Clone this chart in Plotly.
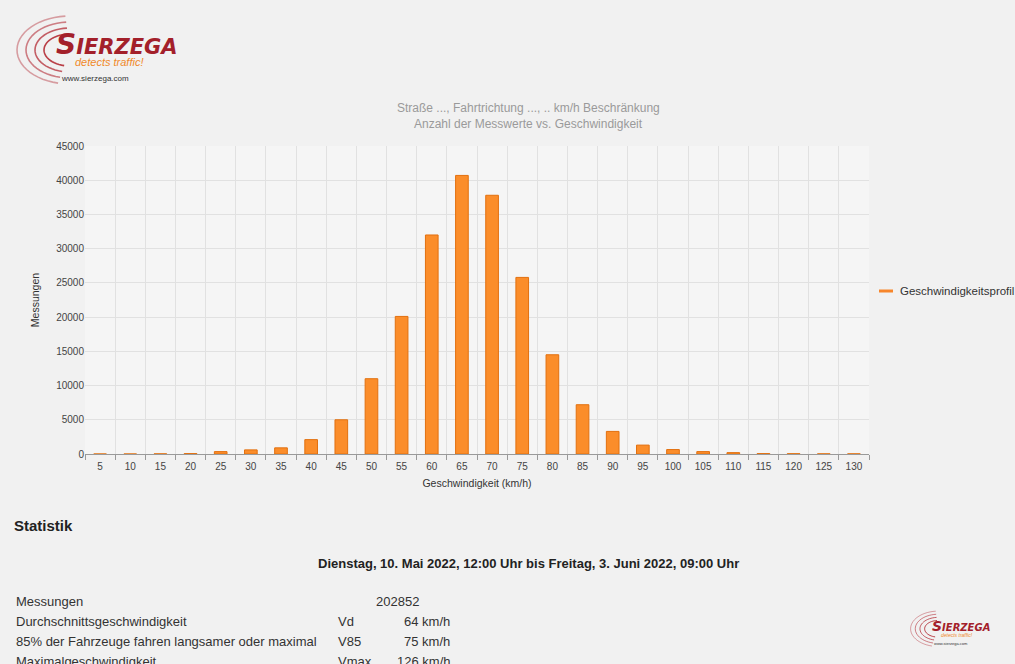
import math
import plotly.graph_objects as go

# ---- data ----
speeds = [5, 10, 15, 20, 25, 30, 35, 40, 45, 50, 55, 60, 65, 70, 75, 80, 85,
          90, 95, 100, 105, 110, 115, 120, 125, 130]
counts = [0, 0, 20, 60, 350, 600, 900, 2100, 5000, 11000, 20100, 32000, 40700,
          37800, 25800, 14500, 7200, 3300, 1300, 650, 350, 200, 60, 40, 20, 20]
series_name = "Geschwindigkeitsprofil"
title_lines = ["Straße ..., Fahrtrichtung ..., .. km/h Beschränkung",
               "Anzahl der Messwerte vs. Geschwindigkeit"]
x_title = "Geschwindigkeit (km/h)"
y_title = "Messungen"
stat_heading = "Statistik"
period = "Dienstag, 10. Mai 2022, 12:00 Uhr bis Freitag, 3. Juni 2022, 09:00 Uhr"
stat_labels = ["Messungen", "Durchschnittsgeschwindigkeit",
               "85% der Fahrzeuge fahren langsamer oder maximal", "Maximalgeschwindigkeit"]
stat_symbols = ["", "Vd", "V85", "Vmax"]
stat_values = ["202852", "64 km/h", "75 km/h", "126 km/h"]

W, H = 1015, 664
L, R, T, B = 85, 869, 146, 454
BAR_COLOR = "#fb8d2a"

def px(x):
    return (x - L) / (R - L)

def py(y):
    return (B - y) / (B - T)

fig = go.Figure()
fig.add_trace(go.Bar(
    x=[str(s) for s in speeds], y=counts, width=0.42, name=series_name,
    marker=dict(color=BAR_COLOR, line=dict(color="#e2700f", width=1)),
    showlegend=False, hoverinfo="x+y"))

font_fam = "Arial, Liberation Sans, sans-serif"
ann = []
shapes = []

# legend (drawn manually so it does not push the right margin)
shapes.append(dict(type="line", xref="paper", yref="paper", x0=px(879), x1=px(893),
                   y0=py(291), y1=py(291), line=dict(color="#f7862b", width=3)))
ann.append(dict(x=px(898), y=py(291), xref="paper", yref="paper", text=series_name,
                showarrow=False, xanchor="left", yanchor="middle",
                font=dict(size=11.5, color="#333", family=font_fam)))

for i, t in enumerate(title_lines):
    ann.append(dict(x=px(528), y=py(108 + 16 * i), xref="paper", yref="paper",
                    text=t, showarrow=False, xanchor="center", yanchor="middle",
                    font=dict(size=12, color="#9a9a9a", family=font_fam)))
ann.append(dict(x=px(12), y=py(525), xref="paper", yref="paper", text="<b>%s</b>" % stat_heading,
                showarrow=False, xanchor="left", yanchor="middle",
                font=dict(size=15, color="#222", family=font_fam)))
ann.append(dict(x=px(528), y=py(563), xref="paper", yref="paper", text="<b>%s</b>" % period,
                showarrow=False, xanchor="center", yanchor="middle",
                font=dict(size=13, color="#222", family=font_fam)))
for i in range(len(stat_labels)):
    yy = py(601 + 20 * i)
    ann.append(dict(x=px(14), y=yy, xref="paper", yref="paper", text=stat_labels[i],
                    showarrow=False, xanchor="left", yanchor="middle",
                    font=dict(size=13, color="#333", family=font_fam)))
    if stat_symbols[i]:
        ann.append(dict(x=px(336), y=yy, xref="paper", yref="paper", text=stat_symbols[i],
                        showarrow=False, xanchor="left", yanchor="middle",
                        font=dict(size=13, color="#333", family=font_fam)))
        ann.append(dict(x=px(452), y=yy, xref="paper", yref="paper", text=stat_values[i],
                        showarrow=False, xanchor="right", yanchor="middle",
                        font=dict(size=13, color="#333", family=font_fam)))
    else:
        ann.append(dict(x=px(397), y=yy, xref="paper", yref="paper", text=stat_values[i],
                        showarrow=False, xanchor="center", yanchor="middle",
                        font=dict(size=13, color="#333", family=font_fam)))


def logo(ox, oy, s):
    for k, (rx, ry) in enumerate([(26, 16), (35, 22), (44, 28), (53, 34)]):
        pts = []
        for a in range(95, 262, 6):
            ang = math.radians(a)
            X = ox + 58 * s + rx * s * math.cos(ang)
            Y = oy + 40 * s - ry * s * math.sin(ang)
            pts.append("%s%.5f,%.5f" % ("M" if not pts else "L", px(X), py(Y)))
        shapes.append(dict(type="path", xref="paper", yref="paper", path=" ".join(pts),
                           line=dict(color="rgba(175,30,40,%.2f)" % (0.85 - 0.15 * k),
                                     width=max(1, 1.6 * s))))
    ann.append(dict(x=px(ox + 42 * s), y=py(oy + 35 * s), xref="paper", yref="paper",
                    text="<i><b><span style='font-size:%dpx'>S</span>IERZEGA</b></i>" % int(28 * s),
                    showarrow=False, xanchor="left", yanchor="middle",
                    font=dict(size=max(6, int(21 * s)), color="#a3202a", family="DejaVu Sans, sans-serif")))
    ann.append(dict(x=px(ox + 62 * s), y=py(oy + 52 * s), xref="paper", yref="paper",
                    text="<i>detects traffic!</i>", showarrow=False, xanchor="left", yanchor="middle",
                    font=dict(size=max(5, int(11 * s)), color="#f08a2a", family=font_fam),
                    borderpad=0))
    ann.append(dict(x=px(ox + 48 * s), y=py(oy + 68 * s), xref="paper", yref="paper",
                    text="www.sierzega.com", showarrow=False, xanchor="left", yanchor="middle",
                    font=dict(size=max(4, int(8 * s)), color="#333", family=font_fam),
                    borderpad=0))

logo(12, 10, 1.0)
logo(908, 608, 0.52)

fig.update_layout(
    width=W, height=H, autosize=False, showlegend=False,
    margin=dict(l=L, r=W - R, t=T, b=H - B),
    paper_bgcolor="#f1f1f1", plot_bgcolor="#f5f5f5",
    font=dict(family=font_fam, size=10, color="#444"),
    annotations=ann, shapes=shapes,
)
fig.update_xaxes(type="category", tickson="boundaries", ticks="outside", ticklen=5,
                 tickcolor="#999", showline=True, linecolor="#999", linewidth=1,
                 showgrid=True, gridcolor="#e1e1e1", ticklabelstandoff=3,
                 tickfont=dict(size=10, color="#444"),
                 title=dict(text=x_title, font=dict(size=10.5, color="#333"), standoff=8))
fig.update_yaxes(range=[0, 45000], dtick=5000, tickformat="d", showgrid=True, gridcolor="#e1e1e1",
                 zeroline=False, showline=False, tickfont=dict(size=10, color="#444"),
                 ticks="", title=dict(text=y_title, font=dict(size=10.5, color="#333"), standoff=14))

fig.write_html("out.html",
               config={"responsive": False, "displayModeBar": False},
               post_script="document.body.style.margin='0';document.body.style.overflow='hidden';")
